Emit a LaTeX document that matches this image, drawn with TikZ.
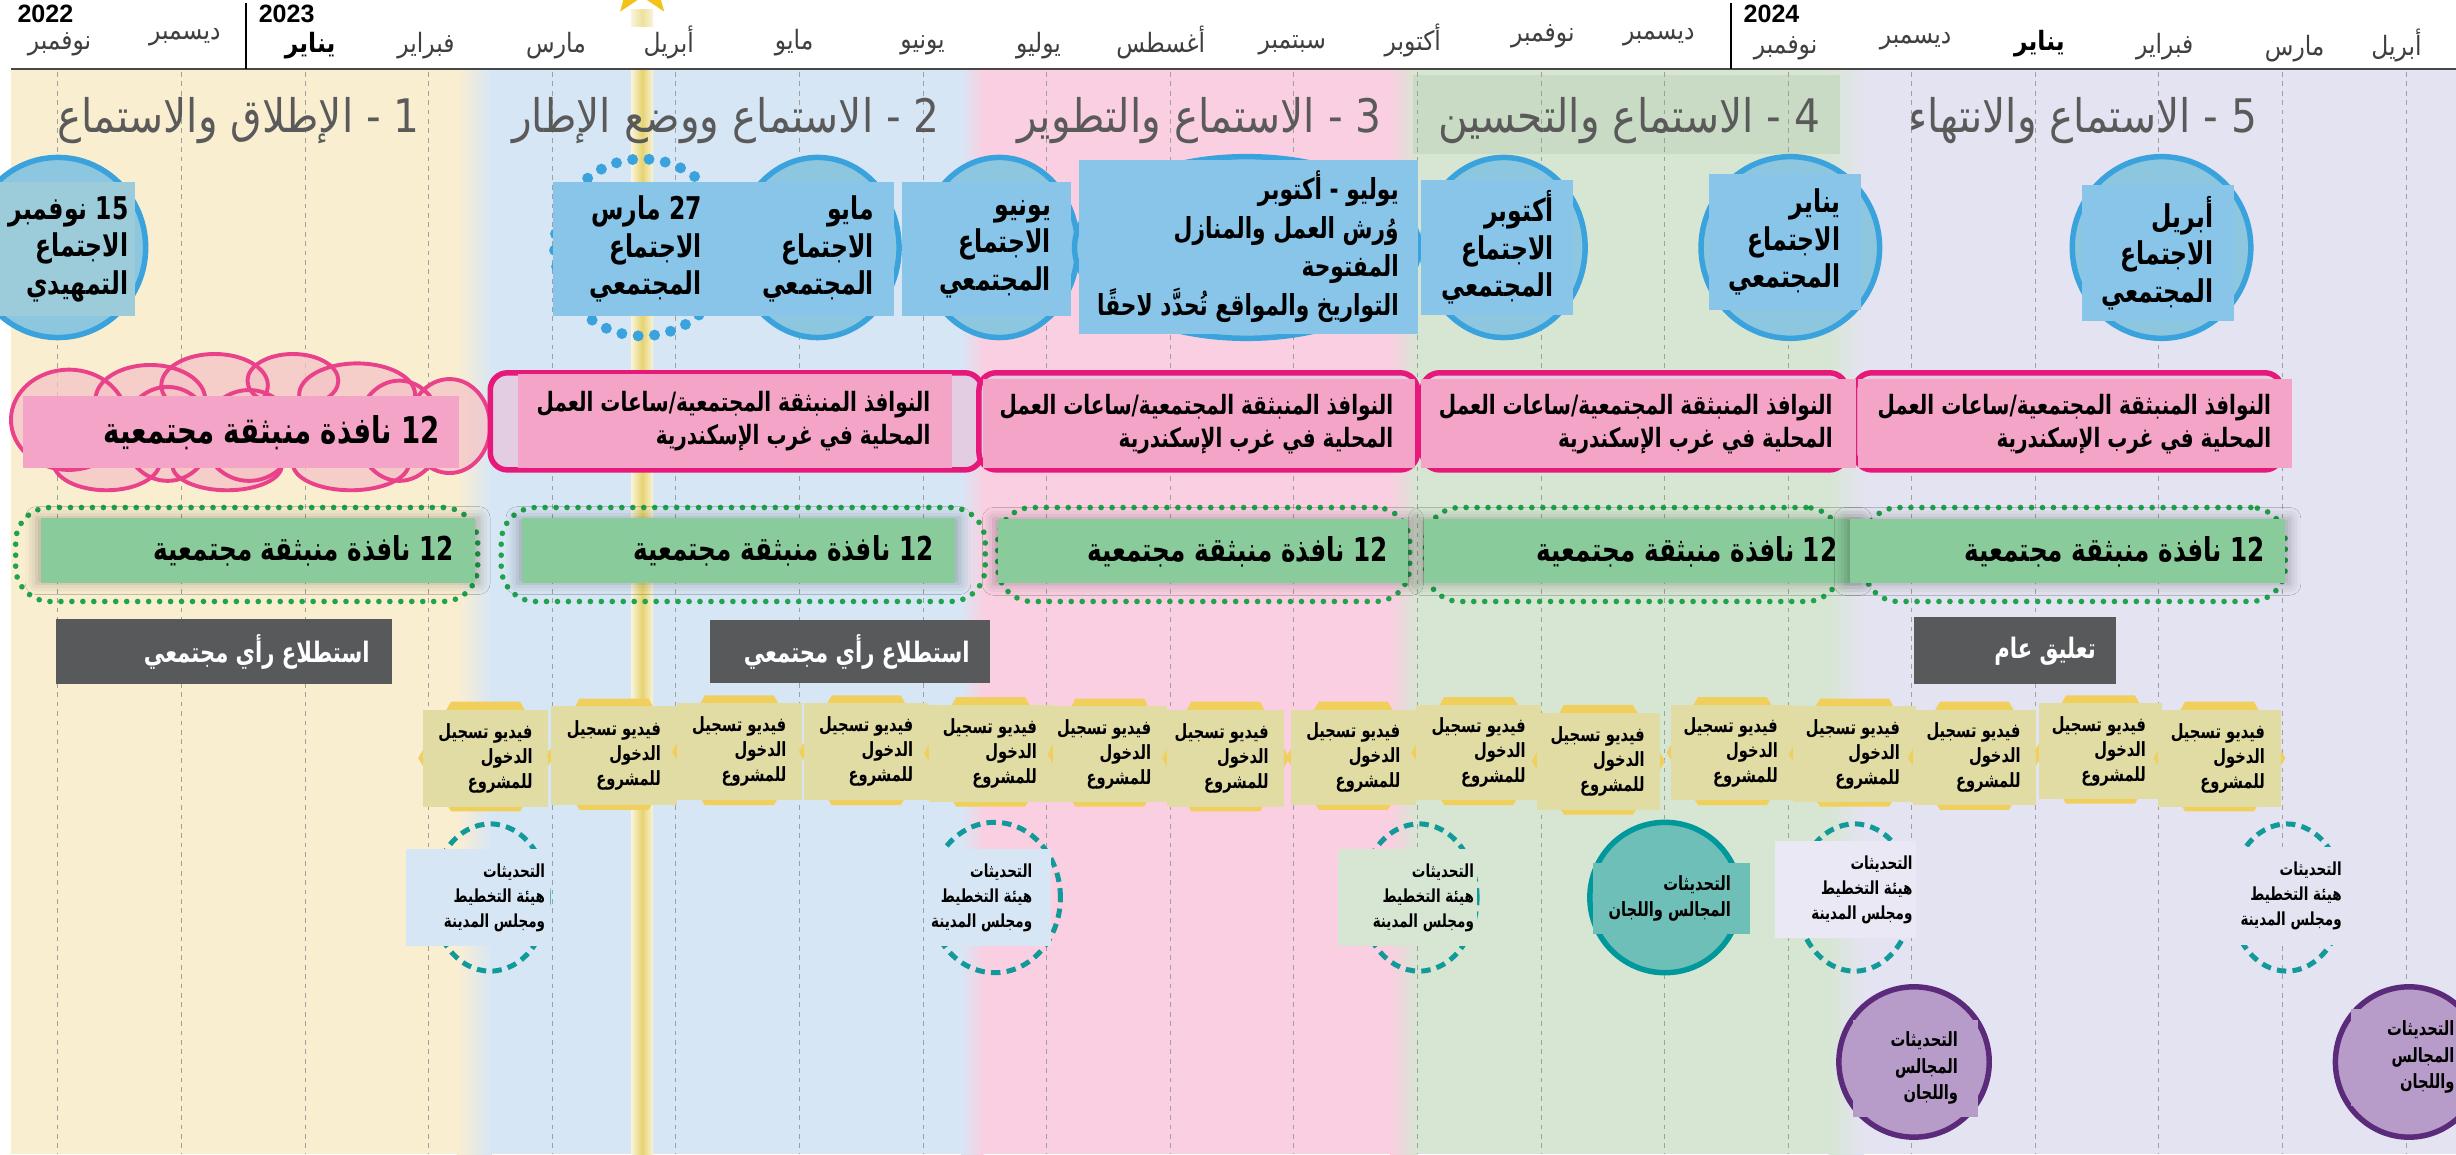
\documentclass[tikz,border=0pt]{standalone}
\usepackage{fontspec}
\usetikzlibrary{shapes.geometric,shadows.blur}
\TeXXeTstate=1
\setmainfont{DejaVu Sans}
\newfontfamily\arn[Script=Arabic,FakeStretch=0.88]{DejaVu Sans}
\newfontfamily\arbf[Script=Arabic,FakeStretch=0.75]{DejaVu Sans}
\newfontfamily\lat{Liberation Sans}
\newcommand\AR[1]{\beginR#1\endR}
\newcommand\NUM[1]{\beginL#1\endL{}}
\definecolor{creamA}{HTML}{FAEED0}
\definecolor{blueA}{HTML}{D7E6F5}
\definecolor{pinkA}{HTML}{F9CFE1}
\definecolor{greenA}{HTML}{D7E6D3}
\definecolor{greenT}{HTML}{C9DBC5}
\definecolor{lavA}{HTML}{E4E3F1}
\definecolor{skyBox}{HTML}{89C5E9}
\definecolor{tealBox}{HTML}{9CCBDA}
\definecolor{ellBlue}{HTML}{3AA2DC}
\definecolor{ellFill}{HTML}{8CC6DF}
\definecolor{pinkBox}{HTML}{F4A4C7}
\definecolor{pinkIn}{HTML}{E2CDE2}
\definecolor{pinkLine}{HTML}{E6197A}
\definecolor{cloudLine}{HTML}{E9428B}
\definecolor{cloudFill}{HTML}{F5C4C7}
\definecolor{greenBox}{HTML}{8ACB9B}
\definecolor{greenDot}{HTML}{1FA34B}
\definecolor{grayBox}{HTML}{58595B}
\definecolor{vidBox}{HTML}{E1DBA4}
\definecolor{vidTab}{HTML}{F1CF5C}
\definecolor{tealLine}{HTML}{129A9B}
\definecolor{tealFill}{HTML}{6DBFB8}
\definecolor{tealDark}{HTML}{00989A}
\definecolor{purLine}{HTML}{5B2A7B}
\definecolor{purFill}{HTML}{B79BC8}
\definecolor{titleGray}{HTML}{5A5A5A}
\definecolor{monthGray}{HTML}{3F3F3F}
\definecolor{starY}{HTML}{F3C318}
\definecolor{barY}{HTML}{E6D36F}
\definecolor{lavBox}{HTML}{E9E8F4}
\begin{document}
\begin{tikzpicture}[x=1pt,y=-1pt,
  every node/.style={inner sep=0pt, outer sep=0pt},
  vline/.style={draw=gray!75, line width=0.6, dash pattern=on 3pt off 3pt},
  month/.style={font=\arn\fontsize{17}{20}\selectfont, text=monthGray},
  monthb/.style={font=\arn\bfseries\fontsize{17}{20}\selectfont, text=black},
  year/.style={font=\lat\bfseries\fontsize{16}{18}\selectfont},
  phase/.style={font=\arn\fontsize{29.5}{34}\selectfont, text=titleGray, anchor=east},
  meetell/.style={ellipse, draw=ellBlue, line width=3.5, fill=ellFill},
  dotring/.style={ellipse, draw=ellBlue, line width=7, dash pattern=on 0pt off 10.5pt, line cap=round},
  mbox/.style={rectangle, fill=skyBox},
  mtxt/.style={anchor=east, align=right, font=\arbf\bfseries\fontsize{20}{24}\selectfont},
  pbox/.style={rectangle, fill=pinkBox},
  pout/.style={rectangle, rounded corners=11, draw=pinkLine, line width=3.5, fill=pinkIn},
  ptxt/.style={anchor=east, align=right, font=\arbf\bfseries\fontsize{17}{21}\selectfont},
  bigtxt/.style={anchor=east, font=\arbf\bfseries\fontsize{23.5}{28}\selectfont},
  gdots/.style={rectangle, rounded corners=22, draw=greenDot, line width=3.6, dash pattern=on 0pt off 7pt, line cap=round},
  gbox/.style={rectangle, fill=greenBox, blur shadow={shadow xshift=0pt, shadow yshift=0pt, shadow blur radius=7pt, shadow opacity=28, shadow scale=1.02}},
  gtxt/.style={anchor=east, font=\arbf\bfseries\fontsize{21}{24}\selectfont},
  sbox/.style={rectangle, fill=grayBox},
  stxt/.style={anchor=east, text=white, font=\arbf\bfseries\fontsize{18}{20}\selectfont},
  vbox/.style={rectangle, fill=vidBox},
  vtxt/.style={anchor=east, align=right, font=\arbf\bfseries\fontsize{12.5}{16}\selectfont},
  uring/.style={ellipse, draw=tealLine, line width=3.2, dash pattern=on 6pt off 4pt},
  ubox/.style={rectangle},
  utxt/.style={anchor=east, align=right, font=\arbf\bfseries\fontsize{11.5}{16}\selectfont},
  tealell/.style={ellipse, draw=tealDark, line width=3.5, fill=tealFill},
  purell/.style={ellipse, draw=purLine, line width=3.5, fill=purFill}]
\useasboundingbox (0,0) rectangle (1568,737);
\fill[white] (0,0) rectangle (1568,737);
% phase bands
\fill[creamA] (7,45) rectangle (292,737);
\shade[left color=creamA, right color=blueA] (291.5,45) rectangle (314,737);
\fill[blueA] (313.5,45) rectangle (614,737);
\shade[left color=blueA, right color=pinkA] (613.5,45) rectangle (628,737);
\fill[pinkA] (627.5,45) rectangle (888,737);
\shade[left color=pinkA, right color=greenA] (887.5,45) rectangle (905,737);
\fill[greenA] (904.5,45) rectangle (1168,737);
\shade[left color=greenA, right color=lavA] (1167.5,45) rectangle (1190,737);
\fill[lavA] (1189.5,45) rectangle (1568,737);
\fill[greenT] (902,48) rectangle (1175,98);
% month grid
\foreach \i in {0,...,19} \draw[vline] ({37+78.9*\i},46) -- ({37+78.9*\i},737);
% today bar and star
\shade[left color=barY!25, right color=barY!25, middle color=barY] (403,44) rectangle (417,737);
\shade[left color=barY!25, right color=barY!25, middle color=barY!70] (403,6) rectangle (417,17);
\node[star, star points=5, star point ratio=2.4, fill=starY, minimum size=48] (star) at (410,-12) {};
% header
\draw[line width=1.6, draw=black!72] (7,44) -- (1568,44);
\draw[line width=1.2] (157,2) -- (157,44);
\draw[line width=1.2] (1105,2) -- (1105,44);
\node[year] (y22) at (29,9) {2022};
\node[year] (y23) at (183,9) {2023};
\node[year] (y24) at (1131,9) {2024};
\node[month] (mo1) at (38,28) {\AR{نوفمبر}};
\node[month] (mo2) at (118,24) {\AR{ديسمبر}};
\node[monthb] (mo3) at (198,29) {\AR{يناير}};
\node[month] (mo4) at (272,29) {\AR{فبراير}};
\node[month] (mo5) at (355,29) {\AR{مارس}};
\node[month] (mo6) at (427,27) {\AR{أبريل}};
\node[month] (mo7) at (507,27) {\AR{مايو}};
\node[month] (mo8) at (589,29) {\AR{يونيو}};
\node[month] (mo9) at (663,29) {\AR{يوليو}};
\node[month] (mo10) at (741,27) {\AR{أغسطس}};
\node[month] (mo11) at (825,29) {\AR{سبتمبر}};
\node[month] (mo12) at (902,26) {\AR{أكتوبر}};
\node[month] (mo13) at (985,23) {\AR{نوفمبر}};
\node[month] (mo14) at (1059,24) {\AR{ديسمبر}};
\node[month] (mo15) at (1140,31) {\AR{نوفمبر}};
\node[month] (mo16) at (1223,26) {\AR{ديسمبر}};
\node[monthb] (mo17) at (1302,28) {\AR{يناير}};
\node[month] (mo18) at (1382,30) {\AR{فبراير}};
\node[month] (mo19) at (1465,31) {\AR{مارس}};
\node[month] (mo20) at (1530,29) {\AR{أبريل}};
% phase titles
\node[phase] (t1) at (268,77) {\AR{1 - الإطلاق والاستماع}};
\node[phase] (t2) at (600,77) {\AR{2 - الاستماع ووضع الإطار}};
\node[phase] (t3) at (882,77) {\AR{3 - الاستماع والتطوير}};
\node[phase] (t4) at (1162,77) {\AR{4 - الاستماع والتحسين}};
\node[phase] (t5) at (1441,77) {\AR{5 - الاستماع والانتهاء}};
% meetings row
\node[meetell, minimum width=112, minimum height=115] (e1) at (37,158) {};
\node[dotring, minimum width=112, minimum height=113] (e2) at (410,158) {};
\node[meetell, minimum width=104, minimum height=115] (e3) at (522,158) {};
\node[meetell, minimum width=100, minimum height=115] (e4) at (638,158) {};
\node[meetell, minimum width=220, minimum height=116] (e5) at (796,158) {};
\node[meetell, minimum width=104, minimum height=115] (e6) at (960,158) {};
\node[meetell, minimum width=114, minimum height=116] (e7) at (1143,158) {};
\node[meetell, minimum width=114, minimum height=116] (e8) at (1380,158) {};
\node[mbox, fill=tealBox, minimum width=86, minimum height=86] (b1) at (43,159) {};
\node[mbox, minimum width=109, minimum height=86] (b2) at (407.5,159) {};
\node[mbox, minimum width=109, minimum height=86] (b3) at (516.5,159) {};
\node[mbox, minimum width=108, minimum height=86] (b4) at (630,159) {};
\node[mbox, minimum width=216, minimum height=111] (b5) at (797,157.5) {};
\node[mbox, minimum width=97, minimum height=86] (b6) at (955.5,158) {};
\node[mbox, minimum width=97, minimum height=87] (b7) at (1139.5,154.5) {};
\node[mbox, minimum width=97, minimum height=87] (b8) at (1377.5,161.5) {};
\node[mtxt] (bt1) at ([xshift=-4]b1.east) {\AR{\NUM{15} نوفمبر}\\\AR{الاجتماع}\\\AR{التمهيدي}};
\node[mtxt] (bt2) at ([xshift=-14]b2.east) {\AR{\NUM{27} مارس}\\\AR{الاجتماع}\\\AR{المجتمعي}};
\node[mtxt] (bt3) at ([xshift=-13]b3.east) {\AR{مايو}\\\AR{الاجتماع}\\\AR{المجتمعي}};
\node[mtxt] (bt4) at ([xshift=-13]b4.east) {\AR{يونيو}\\\AR{الاجتماع}\\\AR{المجتمعي}};
\node[mtxt, font=\arbf\bfseries\fontsize{18.5}{24.5}\selectfont] (bt5) at ([xshift=-12]b5.east) {\AR{يوليو - أكتوبر}\\\AR{وُرش العمل والمنازل}\\\AR{المفتوحة}\\\AR{التواريخ والمواقع تُحدَّد لاحقًا}};
\node[mtxt] (bt6) at ([xshift=-12]b6.east) {\AR{أكتوبر}\\\AR{الاجتماع}\\\AR{المجتمعي}};
\node[mtxt] (bt7) at ([xshift=-13]b7.east) {\AR{يناير}\\\AR{الاجتماع}\\\AR{المجتمعي}};
\node[mtxt] (bt8) at ([xshift=-13]b8.east) {\AR{أبريل}\\\AR{الاجتماع}\\\AR{المجتمعي}};
% cloud
\foreach \cx/\cy/\rx/\ry in {44/268/37/32, 96/255/35/22, 137/246/34/20, 187/243/29/17, 228/252/37/20, 287/272/26/30, 68/295/34/18, 107/277/28/30, 145/297/35/16, 224/296/37/17, 255/275/27/32, 159/278/29/29}
  \fill[cloudFill, fill opacity=0.75] (\cx,\cy) ellipse [x radius=\rx, y radius=\ry];
\foreach \cx/\cy/\rx/\ry in {44/268/37/32, 96/255/35/22, 137/246/34/20, 187/243/29/17, 228/252/37/20, 287/272/26/30, 68/295/34/18, 107/277/28/30, 145/297/35/16, 224/296/37/17, 255/275/27/32, 159/278/29/29}
  \draw[cloudLine, line width=2.5] (\cx,\cy) ellipse [x radius=\rx, y radius=\ry];
% pink row
\node[pbox, minimum width=278, minimum height=46] (p1) at (154,276) {};
\node[bigtxt] (pt1) at ([xshift=-12]p1.east) {\AR{\NUM{12} نافذة منبثقة مجتمعية}};
\node[pout, minimum width=314, minimum height=62] (po2) at (470,269) {};
\node[pout, minimum width=280, minimum height=62] (po3) at (765,269) {};
\node[pout, minimum width=271, minimum height=62] (po4) at (1043.5,269) {};
\node[pout, minimum width=273, minimum height=62] (po5) at (1320.5,269) {};
\node[pbox, minimum width=277, minimum height=60] (p2) at (469.5,269) {};
\node[pbox, minimum width=276, minimum height=57] (p3) at (765.5,270.5) {};
\node[pbox, minimum width=278, minimum height=57] (p4) at (1046,270.5) {};
\node[pbox, minimum width=277, minimum height=57] (p5) at (1324.5,270.5) {};
\node[ptxt] (pt2) at ([xshift=-14]p2.east) {\AR{النوافذ المنبثقة المجتمعية/ساعات العمل}\\\AR{المحلية في غرب الإسكندرية}};
\node[ptxt] (pt3) at ([xshift=-14]p3.east) {\AR{النوافذ المنبثقة المجتمعية/ساعات العمل}\\\AR{المحلية في غرب الإسكندرية}};
\node[ptxt] (pt4) at ([xshift=-15]p4.east) {\AR{النوافذ المنبثقة المجتمعية/ساعات العمل}\\\AR{المحلية في غرب الإسكندرية}};
\node[ptxt] (pt5) at ([xshift=-13]p5.east) {\AR{النوافذ المنبثقة المجتمعية/ساعات العمل}\\\AR{المحلية في غرب الإسكندرية}};
% green row
\node[gdots, minimum width=295, minimum height=60] (gd1) at (157.5,354) {};
\node[gdots, minimum width=309, minimum height=60] (gd2) at (474.5,354) {};
\node[gdots, minimum width=263, minimum height=60] (gd3) at (768.5,354) {};
\node[gdots, minimum width=265, minimum height=60] (gd4) at (1042.5,354) {};
\node[gdots, minimum width=269, minimum height=60] (gd5) at (1324.5,354) {};
\node[gbox, minimum width=277, minimum height=41] (g1) at (164.5,351.5) {};
\node[gbox, minimum width=277, minimum height=41] (g2) at (471.5,351.5) {};
\node[gbox, minimum width=262, minimum height=41] (g3) at (768,352) {};
\node[gbox, minimum width=276, minimum height=41] (g4) at (1047,352) {};
\node[gbox, minimum width=278, minimum height=41] (g5) at (1320,352) {};
\node[gtxt] (gt1) at ([xshift=-13]g1.east) {\AR{\NUM{12} نافذة منبثقة مجتمعية}};
\node[gtxt] (gt2) at ([xshift=-14]g2.east) {\AR{\NUM{12} نافذة منبثقة مجتمعية}};
\node[gtxt] (gt3) at ([xshift=-13]g3.east) {\AR{\NUM{12} نافذة منبثقة مجتمعية}};
\node[gtxt] (gt4) at ([xshift=-12]g4.east) {\AR{\NUM{12} نافذة منبثقة مجتمعية}};
\node[gtxt] (gt5) at ([xshift=-13]g5.east) {\AR{\NUM{12} نافذة منبثقة مجتمعية}};
% gray row
\node[sbox, minimum width=214, minimum height=42] (s1) at (143,416) {};
\node[sbox, minimum width=179, minimum height=40] (s2) at (542.5,416) {};
\node[sbox, minimum width=129, minimum height=43] (s3) at (1286.5,415.5) {};
\node[stxt] (st1) at ([xshift=-14]s1.east) {\AR{استطلاع رأي مجتمعي}};
\node[stxt] (st2) at ([xshift=-13]s2.east) {\AR{استطلاع رأي مجتمعي}};
\node[stxt] (st3) at ([xshift=-13]s3.east) {\AR{تعليق عام}};
% video row
\foreach \L/\R/\T/\B [count=\k] in {270/350/453/515, 352/432/451/514, 432/512/449/511, 513/593/449/511, 593/672/450/512, 672/745/451/512, 745/820/453/515, 824/904/453/514, 904/984/450/511, 981/1060/455/517, 1067/1145/450/511, 1145/1223/451/512, 1221/1300/453/514, 1302/1380/449/510, 1378/1456/453/515} {
  \pgfmathsetmacro\cx{(\L+\R)/2}
  \pgfmathsetmacro\cy{(\T+\B)/2}
  \pgfmathsetmacro\w{\R-\L}
  \pgfmathsetmacro\h{\B-\T}
  \fill[vidTab] (\L-3,\cy) -- (\cx-22,\T-5) -- (\cx+22,\T-5) -- (\R+3,\cy) -- (\cx+22,\B+3) -- (\cx-22,\B+3) -- cycle;
  \node[vbox, minimum width=\w, minimum height=\h] (v\k) at (\cx,\cy) {};
  \node[vtxt] (vt\k) at ([xshift=-10]v\k.east) {\AR{فيديو تسجيل}\\\AR{الدخول}\\\AR{للمشروع}};
}
% updates row
\node[uring, minimum width=74, minimum height=94] (u1) at (313,573) {};
\node[uring, minimum width=84, minimum height=96] (u2) at (635,573) {};
\node[uring, minimum width=74, minimum height=94] (u3) at (906,573) {};
\node[tealell, minimum width=96, minimum height=96] (u4) at (1063,573) {};
\node[uring, minimum width=74, minimum height=94] (u5) at (1184,573) {};
\node[uring, minimum width=72, minimum height=94] (u6) at (1460,573) {};
\node[ubox, fill=blueA, minimum width=92, minimum height=62] (ub1) at (305,573) {};
\node[ubox, fill=blueA, minimum width=81, minimum height=62] (ub2) at (630.5,573) {};
\node[ubox, fill=greenA, minimum width=89, minimum height=62] (ub3) at (898.5,573) {};
\node[ubox, fill=tealFill, minimum width=100, minimum height=45] (ub4) at (1067,573.5) {};
\node[ubox, fill=lavBox, minimum width=90, minimum height=62] (ub5) at (1178,568) {};
\node[ubox, fill=lavA, minimum width=87, minimum height=62] (ub6) at (1463.5,572) {};
\node[utxt] (ut1) at ([xshift=-3]ub1.east) {\AR{التحديثات}\\\AR{هيئة التخطيط}\\\AR{ومجلس المدينة}};
\node[utxt] (ut2) at ([xshift=-12]ub2.east) {\AR{التحديثات}\\\AR{هيئة التخطيط}\\\AR{ومجلس المدينة}};
\node[utxt] (ut3) at ([xshift=-2]ub3.east) {\AR{التحديثات}\\\AR{هيئة التخطيط}\\\AR{ومجلس المدينة}};
\node[utxt, font=\arbf\bfseries\fontsize{12.5}{17}\selectfont] (ut4) at ([xshift=-12]ub4.east) {\AR{التحديثات}\\\AR{المجالس واللجان}};
\node[utxt] (ut5) at ([xshift=-2]ub5.east) {\AR{التحديثات}\\\AR{هيئة التخطيط}\\\AR{ومجلس المدينة}};
\node[utxt] (ut6) at ([xshift=-12]ub6.east) {\AR{التحديثات}\\\AR{هيئة التخطيط}\\\AR{ومجلس المدينة}};
% purple row
\node[purell, minimum width=96, minimum height=96] (r1) at (1222,678) {};
\node[purell, minimum width=94, minimum height=96] (r2) at (1538,678) {};
\node[ubox, fill=purFill, minimum width=80, minimum height=62] (rb1) at (1223,682) {};
\node[ubox, fill=purFill, minimum width=80, minimum height=62] (rb2) at (1541,675) {};
\node[utxt, font=\arbf\bfseries\fontsize{12.5}{17}\selectfont] (rt1) at ([xshift=-13]rb1.east) {\AR{التحديثات}\\\AR{المجالس}\\\AR{واللجان}};
\node[utxt, font=\arbf\bfseries\fontsize{12.5}{17}\selectfont] (rt2) at ([xshift=-14]rb2.east) {\AR{التحديثات}\\\AR{المجالس}\\\AR{واللجان}};
\end{tikzpicture}
\end{document}
